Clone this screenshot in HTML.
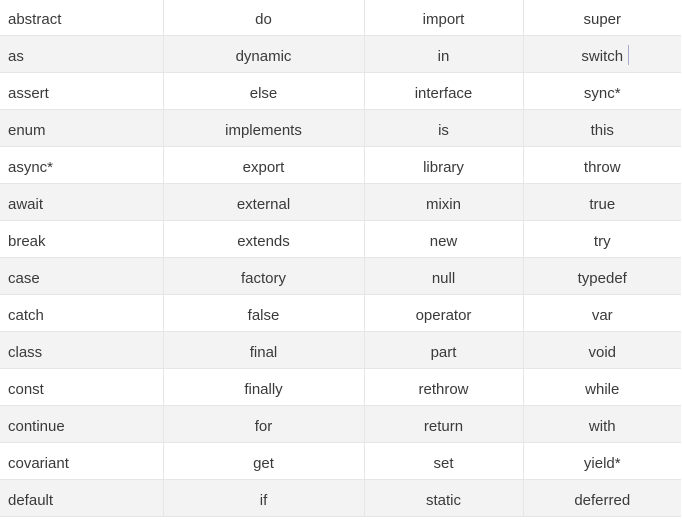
<!DOCTYPE html>
<html><head><style>
body{margin:0;background:#fff;width:682px;height:525px;overflow:hidden;font-family:"Liberation Sans",sans-serif;}
table{position:absolute;left:0;top:-1px;border-collapse:collapse;width:681px;table-layout:fixed;}
td{height:32px;padding:4px 0 0 0;border-bottom:1px solid #e6e6e6;border-right:1px solid #e6e6e6;font-size:15px;color:#3a3a3a;text-align:center;}
td:first-child{text-align:left;padding-left:8px;}
td:last-child{border-right:none;}
tr:nth-child(even) td{background:#f3f3f3;}
</style></head><body>
<table>
<colgroup><col style="width:163px"><col style="width:201px"><col style="width:159px"><col style="width:158px"></colgroup>
<tr><td>abstract</td><td>do</td><td>import</td><td>super</td></tr>
<tr><td>as</td><td>dynamic</td><td>in</td><td>switch</td></tr>
<tr><td>assert</td><td>else</td><td>interface</td><td>sync*</td></tr>
<tr><td>enum</td><td>implements</td><td>is</td><td>this</td></tr>
<tr><td>async*</td><td>export</td><td>library</td><td>throw</td></tr>
<tr><td>await</td><td>external</td><td>mixin</td><td>true</td></tr>
<tr><td>break</td><td>extends</td><td>new</td><td>try</td></tr>
<tr><td>case</td><td>factory</td><td>null</td><td>typedef</td></tr>
<tr><td>catch</td><td>false</td><td>operator</td><td>var</td></tr>
<tr><td>class</td><td>final</td><td>part</td><td>void</td></tr>
<tr><td>const</td><td>finally</td><td>rethrow</td><td>while</td></tr>
<tr><td>continue</td><td>for</td><td>return</td><td>with</td></tr>
<tr><td>covariant</td><td>get</td><td>set</td><td>yield*</td></tr>
<tr><td>default</td><td>if</td><td>static</td><td>deferred</td></tr>
</table>
<div style="position:absolute;left:628px;top:45px;width:1px;height:20px;background:#aac;"></div>
</body></html>
